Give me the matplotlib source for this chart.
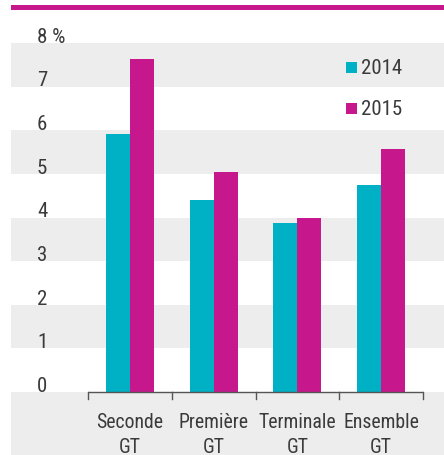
import matplotlib
matplotlib.use("Agg")
import matplotlib.pyplot as plt
from matplotlib.patches import Rectangle

plt.rcParams['font.family'] = ['Roboto Condensed', 'Liberation Sans Narrow', 'Roboto', 'DejaVu Sans']
plt.rcParams['font.stretch'] = 'condensed'
plt.rcParams['font.weight'] = 'normal'

categories = ["Seconde\nGT", "Première\nGT", "Terminale\nGT", "Ensemble\nGT"]
series_names = ["2014", "2015"]
values_2014 = [5.92, 4.40, 3.88, 4.74]
values_2015 = [7.64, 5.05, 4.00, 5.58]
y_ticks = [0, 1, 2, 3, 4, 5, 6, 7, 8]
y_tick_labels = ["0", "1", "2", "3", "4", "5", "6", "7", "8 %"]

TEAL = "#00B0C5"
MAGENTA = "#C6178C"
BAND = "#EDEDED"
TEXT = "#3A3A3A"

W, H = 444, 456
fig = plt.figure(figsize=(W / 100, H / 100), dpi=100)
ax = fig.add_axes([11 / W, 0, 433 / W, 1])

px_x = 83.7
px_y = 43.625
x0 = 130.0
y0 = 393.0
ax.set_xlim((11 - x0) / px_x, (444 - x0) / px_x)
ax.set_ylim((y0 - 456) / px_y, y0 / px_y)
ax.axis("off")

# bands
for lo, hi in [(7, 8), (5, 6), (3, 4), (1, 2)]:
    ax.axhspan(lo, hi, color=BAND, lw=0, zorder=0)
ax.axhspan((y0 - 456) / px_y, 0, color=BAND, lw=0, zorder=0)

# bars
bw = 24 / px_x
xs = list(range(len(categories)))
ax.bar([x - bw / 2 for x in xs], values_2014, width=bw, color=TEAL, zorder=2, linewidth=0)
ax.bar([x + bw / 2 for x in xs], values_2015, width=bw, color=MAGENTA, zorder=2, linewidth=0)

# x axis line and ticks
ax.plot([-0.5, len(categories) - 0.5], [0, 0], color="#555555", lw=1, zorder=3,
        solid_capstyle="butt")
tick_len = 7 / px_y
for k in range(len(categories) + 1):
    ax.plot([k - 0.5, k - 0.5], [0, -tick_len], color="#555555", lw=1, zorder=3)

# category labels
for x, lab in zip(xs, categories):
    l1, l2 = lab.split("\n")
    ax.text(x, (y0 - 428) / px_y, l1, ha="center", va="baseline", fontsize=14.2, color=TEXT)
    ax.text(x, (y0 - 453) / px_y, l2, ha="center", va="baseline", fontsize=14.2, color=TEXT)

# y tick labels
xl = (37 - x0) / px_x
for v, lab in zip(y_ticks, y_tick_labels):
    ax.text(xl, v + 1.2 / px_y, lab, ha="left", va="baseline", fontsize=15, color=TEXT)

# legend
for name, col, yb in [(series_names[0], TEAL, 74), (series_names[1], MAGENTA, 115)]:
    fig.patches.append(Rectangle((346 / W, 1 - (yb - 0.5) / H), 11 / W, 11 / H,
                                 transform=fig.transFigure, color=col, lw=0))
    fig.text(361 / W, 1 - yb / H, name, ha="left", va="baseline", fontsize=15, color=TEXT)

# top magenta rule
fig.patches.append(Rectangle((11 / W, 1 - 11 / H), 433 / W, 5 / H,
                             transform=fig.transFigure, color=MAGENTA, lw=0))

fig.savefig("out.png", dpi=100)
